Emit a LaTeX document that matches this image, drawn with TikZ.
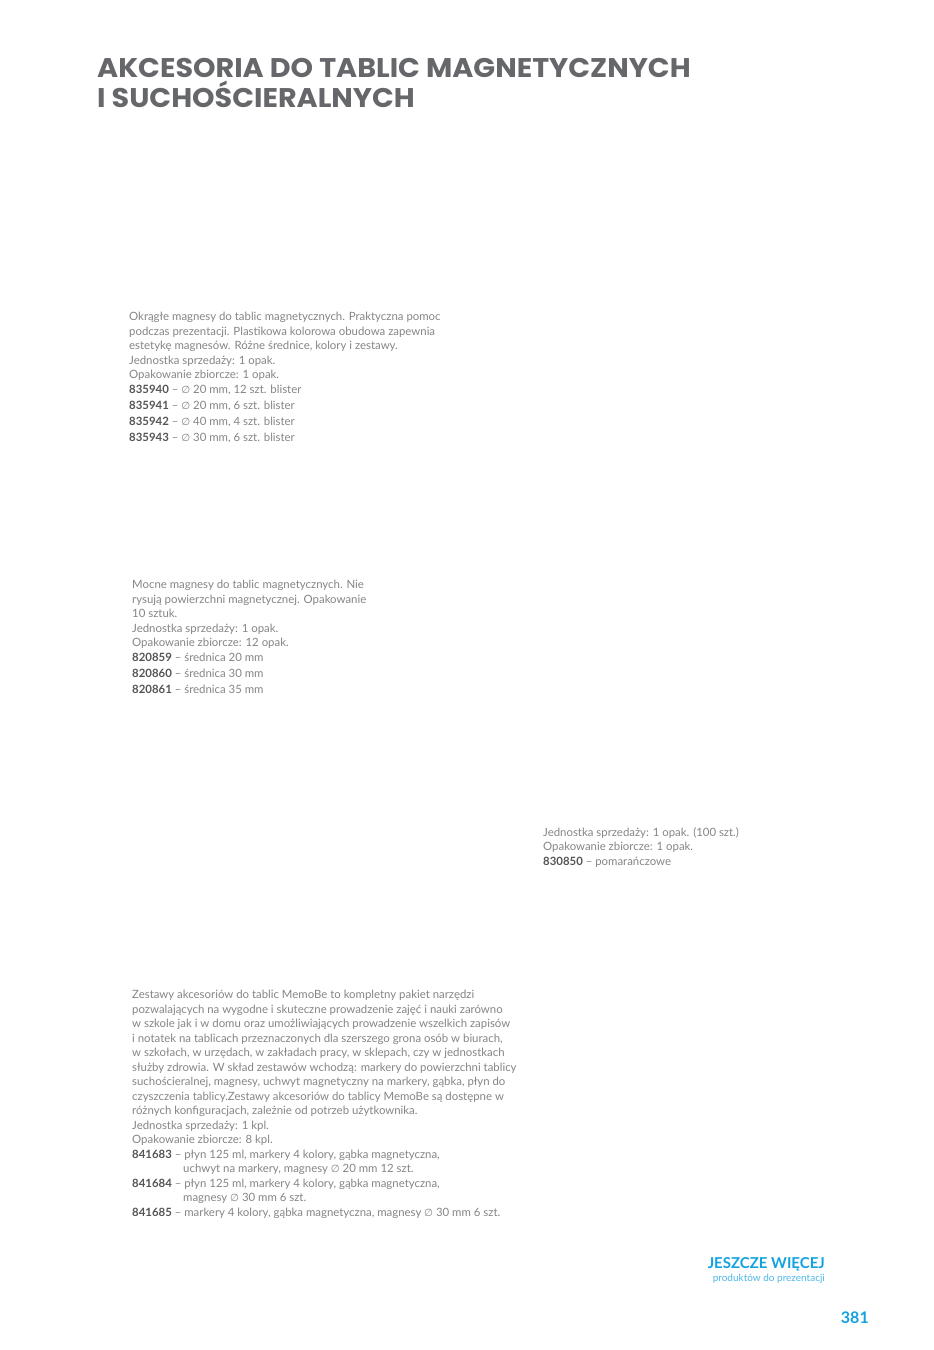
\documentclass[tikz,border=0pt]{standalone}
\usepackage{fontspec}
\setmainfont{Lato}
\newfontfamily\titlefont{Poppins}
\newfontfamily\symfont{DejaVu Sans}
\definecolor{titlegrey}{HTML}{66676A}
\definecolor{bodygrey}{HTML}{858585}
\definecolor{codegrey}{HTML}{555555}
\definecolor{cyanA}{HTML}{12A2E0}
\definecolor{cyanB}{HTML}{4DB8EA}
\newcommand{\code}[1]{{\color{codegrey}\bfseries #1}}
\newcommand{\diam}{{\symfont\scalebox{0.9}{∅}}}
\tikzset{
  bodytext/.style={anchor=north west, inner sep=0pt, align=left, text=bodygrey,
    font={\fontsize{11.4}{14.5}\selectfont}},
  titletext/.style={anchor=north west, inner sep=0pt, align=left, text=titlegrey,
    font={\titlefont\bfseries\fontsize{27}{30}\selectfont}}
}
\begin{document}
\begin{tikzpicture}[x=1pt,y=-1pt]
\fill[white] (0,0) rectangle (934,1350);
\useasboundingbox (0,0) rectangle (934,1350);

\node[titletext] (title) at (97,58) {\scalebox{1.06}[1]{AKCESORIA DO TABLIC MAGNETYCZNYCH}\\\scalebox{1.06}[1]{I SUCHOŚCIERALNYCH}};

\node[bodytext] (b1) at (129,312) {Okrągłe magnesy do tablic magnetycznych. Praktyczna pomoc\\
podczas prezentacji. Plastikowa kolorowa obudowa zapewnia\\
estetykę magnesów. Różne średnice, kolory i zestawy.\\
Jednostka sprzedaży: 1 opak.\\
Opakowanie zbiorcze: 1 opak.\\
\code{835940} – \diam{} 20 mm, 12 szt. blister\\[1.5pt]
\code{835941} – \diam{} 20 mm, 6 szt. blister\\[1.5pt]
\code{835942} – \diam{} 40 mm, 4 szt. blister\\[1.5pt]
\code{835943} – \diam{} 30 mm, 6 szt. blister};

\node[bodytext] (b2) at (132,580) {Mocne magnesy do tablic magnetycznych. Nie\\
rysują powierzchni magnetycznej. Opakowanie\\
10 sztuk.\\
Jednostka sprzedaży: 1 opak.\\
Opakowanie zbiorcze: 12 opak.\\[0.5pt]
\code{820859} – średnica 20 mm\\[1.5pt]
\code{820860} – średnica 30 mm\\[1.5pt]
\code{820861} – średnica 35 mm};

\node[bodytext] (b3) at (543,827) {Jednostka sprzedaży: 1 opak. (100 szt.)\\
Opakowanie zbiorcze: 1 opak.\\
\code{830850} – pomarańczowe};

\node[bodytext] (b4) at (132,990) {Zestawy akcesoriów do tablic MemoBe to kompletny pakiet narzędzi\\
pozwalających na wygodne i skuteczne prowadzenie zajęć i nauki zarówno\\
w szkole jak i w domu oraz umożliwiających prowadzenie wszelkich zapisów\\
i notatek na tablicach przeznaczonych dla szerszego grona osób w biurach,\\
w szkołach, w urzędach, w zakładach pracy, w sklepach, czy w jednostkach\\
służby zdrowia. W skład zestawów wchodzą: markery do powierzchni tablicy\\
suchościeralnej, magnesy, uchwyt magnetyczny na markery, gąbka, płyn do\\
czyszczenia tablicy.Zestawy akcesoriów do tablicy MemoBe są dostępne w\\
różnych konfiguracjach, zależnie od potrzeb użytkownika.\\
Jednostka sprzedaży: 1 kpl.\\
Opakowanie zbiorcze: 8 kpl.\\
\code{841683} – płyn 125 ml, markery 4 kolory, gąbka magnetyczna,\\
\hspace*{51pt}uchwyt na markery, magnesy \diam{} 20 mm 12 szt.\\
\code{841684} – płyn 125 ml, markery 4 kolory, gąbka magnetyczna,\\
\hspace*{51pt}magnesy \diam{} 30 mm 6 szt.\\
\code{841685} – markery 4 kolory, gąbka magnetyczna, magnesy \diam{} 30 mm 6 szt.};

\node[anchor=base east, inner sep=0pt, text=cyanA, font={\bfseries\fontsize{15}{17}\selectfont}] (more) at (825,1268) {JESZCZE WIĘCEJ};
\node[anchor=base east, inner sep=0pt, text=cyanB, font={\fontsize{10}{12}\selectfont}] (moresub) at (825,1281) {produktów do prezentacji};
\node[anchor=base east, inner sep=0pt, text=cyanA, font={\bfseries\fontsize{16}{20}\selectfont}] (page) at (869,1323) {381};
\end{tikzpicture}
\end{document}
